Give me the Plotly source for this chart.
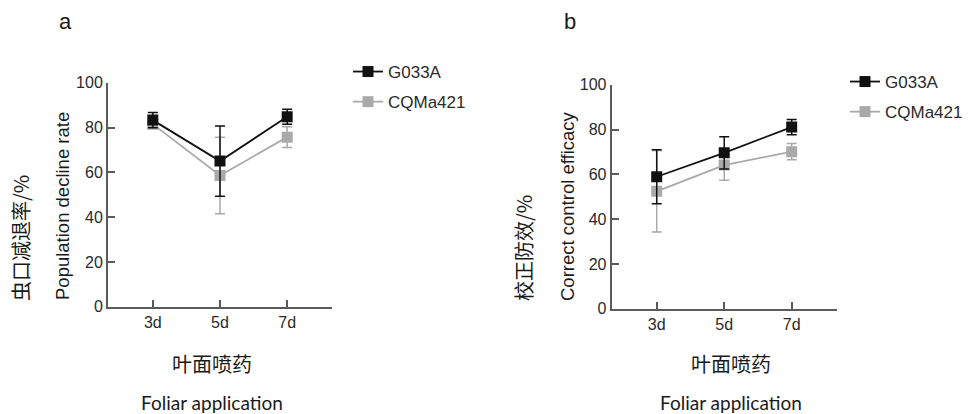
import plotly.graph_objects as go

categories = ["3d", "5d", "7d"]

# Panel a: population decline rate
a_g033a = [83.3, 65.0, 84.8]
a_g033a_err = [3.4, 15.7, 3.4]
a_cqma421 = [81.5, 58.6, 75.7]
a_cqma421_err = [1.8, 17.1, 4.6]

# Panel b: corrected control efficacy
b_g033a = [58.9, 69.6, 81.1]
b_g033a_err = [12.1, 7.2, 3.4]
b_cqma421 = [52.4, 64.1, 70.1]
b_cqma421_err = [18.2, 6.8, 3.6]

y_ticks = [0, 20, 40, 60, 80, 100]

W, H = 969, 414
BLACK = "#111111"
GRAY = "#a9a9a9"
AX = "#5a5a5a"
TXT = "#2a2a2a"
SANS = "Arial"
CJK = "Noto Sans CJK SC"
LAT = "Lato"


def px(x):
    return x / W


def py(y):
    return 1 - y / H


fig = go.Figure()


def add_series(name, y, err, color, xa, ya, legend, rank):
    fig.add_trace(go.Scatter(
        x=categories, y=y, name=name, mode="lines+markers",
        xaxis=xa, yaxis=ya, legend=legend, legendrank=rank,
        legendgroup=name + legend, showlegend=True,
        line=dict(color=color, width=1.8),
        marker=dict(symbol="square", size=11, color=color),
        error_y=dict(type="data", array=err, visible=True, color=color,
                     thickness=1.5, width=5),
    ))


# gray first so the black series sits on top
add_series("CQMa421", a_cqma421, a_cqma421_err, GRAY, "x", "y", "legend", 2)
add_series("G033A", a_g033a, a_g033a_err, BLACK, "x", "y", "legend", 1)
add_series("CQMa421", b_cqma421, b_cqma421_err, GRAY, "x2", "y2", "legend2", 2)
add_series("G033A", b_g033a, b_g033a_err, BLACK, "x2", "y2", "legend2", 1)

xa_common = dict(
    type="category", range=[-0.667, 2.667], showline=True, linecolor=AX,
    linewidth=2, ticks="inside", ticklen=7, tickwidth=1.5, tickcolor=AX,
    showgrid=False, zeroline=False, fixedrange=True, automargin=False,
    tickfont=dict(family=SANS, size=16, color=TXT),
)
ya_common = dict(
    range=[0, 100], tickvals=y_ticks, showline=True, linecolor=AX,
    linewidth=2, ticks="inside", ticklen=7, tickwidth=1.5, tickcolor=AX,
    showgrid=False, zeroline=False, fixedrange=True, automargin=False,
    tickfont=dict(family=SANS, size=16, color=TXT),
)

leg_common = dict(
    font=dict(family=SANS, size=17, color=TXT), bgcolor="rgba(0,0,0,0)",
    traceorder="grouped", tracegroupgap=5, xanchor="left", yanchor="middle",
    itemclick=False, itemdoubleclick=False,
)

fig.update_layout(
    width=W, height=H,
    margin=dict(l=0, r=0, t=0, b=0, pad=0, autoexpand=False),
    paper_bgcolor="white", plot_bgcolor="white",
    xaxis=dict(domain=[px(108), px(332)], anchor="y", **xa_common),
    yaxis=dict(domain=[py(306.7), py(82.7)], anchor="x", **ya_common),
    xaxis2=dict(domain=[px(611.7), px(836.7)], anchor="y2", **xa_common),
    yaxis2=dict(domain=[py(308.7), py(84.7)], anchor="x2", **ya_common),
    legend=dict(x=px(348), y=py(87), **leg_common),
    legend2=dict(x=px(845), y=py(97), **leg_common),
    showlegend=True,
)

annotations = [
    ("a", 65, 21, 0, SANS, 22),
    ("b", 570, 21, 0, SANS, 22),
    ("Population decline rate", 62, 206, -90, SANS, 18.5),
    ("虫口减退率/%", 20, 238, -90, CJK, 20),
    ("Correct control efficacy", 567, 206, -90, SANS, 18.5),
    ("校正防效/%", 523, 248, -90, CJK, 20),
    ("叶面喷药", 212, 363, 0, CJK, 20),
    ("叶面喷药", 731, 363, 0, CJK, 20),
    ("Foliar application", 212, 402, 0, LAT, 19),
    ("Foliar application", 731, 402, 0, LAT, 19),
]
for text, x, y, ang, fam, size in annotations:
    fig.add_annotation(
        text=text, x=px(x), y=py(y), xref="paper", yref="paper",
        xanchor="center", yanchor="middle", showarrow=False, textangle=ang,
        font=dict(family=fam, size=size, color="#1a1a1a"),
    )

fig.write_html(
    "out.html",
    config={"displayModeBar": False},
    post_script="document.body.style.margin='0';document.body.style.overflow='hidden';",
)
